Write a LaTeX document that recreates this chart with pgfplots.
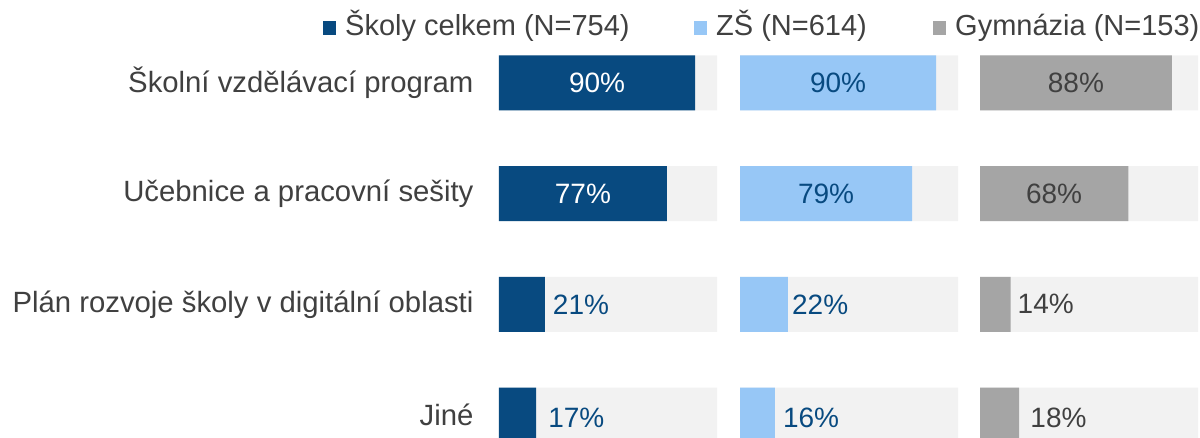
\documentclass[border=0pt]{standalone}
\usepackage{pgfplots}
\pgfplotsset{compat=1.18}
\usepackage{fontspec}
\setmainfont{Liberation Sans}
\definecolor{cone}{HTML}{084A80}
\definecolor{ctwo}{HTML}{97C7F6}
\definecolor{cthree}{HTML}{A5A5A5}
\definecolor{cbg}{HTML}{F2F2F2}
\definecolor{txt}{HTML}{404040}
\newcommand\catfont{\fontsize{29.3}{34}\selectfont}
\newcommand\legfont{\fontsize{29}{34}\selectfont}
\newcommand\valfont{\fontsize{28}{33}\selectfont}
\pgfplotsset{
  panel/.style={
    scale only axis, width=218pt, height=442.7pt,
    anchor=center,
    xmin=0, xmax=100, ymin=-0.5, ymax=3.5, y dir=reverse,
    axis line style={draw=none}, major tick style={draw=none},
    xtick=\empty, ytick={0,1,2,3}, yticklabels={},
    clip=false,
    /pgf/number format/assume math mode=true,
  },
  bgbar/.style={xbar, bar shift=0pt, bar width=55pt, fill=cbg, draw=none},
  valbar/.style={xbar, bar shift=0pt, bar width=55pt, fill=#1, draw=none, point meta=x},
  inlab/.style={visualization depends on=x\as\rawx,
    nodes near coords={\pgfmathprintnumber{\pgfplotspointmeta}\%},
    nodes near coords style={anchor=center, xshift=-\rawx*1.09pt, text=#1, font=\valfont, inner sep=0pt}},
  outlab/.style 2 args={visualization depends on=y\as\rawy,
    nodes near coords={\pgfmathprintnumber{\pgfplotspointmeta}\%},
    nodes near coords style={anchor=west, xshift={#2+(\rawy-2)*4pt}, yshift={-(\rawy-2)*3pt}, text=#1, font=\valfont, inner sep=0pt}},
}
\begin{document}
\begin{tikzpicture}
\useasboundingbox (0,0) rectangle (1200pt,437pt);
% legend
\fill[cone] (323pt,402pt) rectangle (336pt,416pt);
\node[anchor=base west, inner sep=0pt, text=txt, font=\legfont] at (345pt,401pt) {Školy celkem (N=754)};
\fill[ctwo] (694pt,402pt) rectangle (707pt,416pt);
\node[anchor=base west, inner sep=0pt, text=txt, font=\legfont] at (716pt,401pt) {ZŠ (N=614)};
\fill[cthree] (933pt,402pt) rectangle (946pt,416pt);
\node[anchor=base west, inner sep=0pt, text=txt, font=\legfont] at (955pt,401pt) {Gymnázia (N=153)};

% panel 1
\begin{axis}[panel, at={(608pt,188pt)},
  yticklabels={Školní vzdělávací program, Učebnice a pracovní sešity, Plán rozvoje školy v digitální oblasti, Jiné},
  yticklabel style={font=\catfont, text=txt, xshift=-22pt}]
\addplot[bgbar] coordinates {(100,0) (100,1) (100,2) (100,3)};
\addplot[valbar=cone, inlab=white] coordinates {(90,0) (77,1)};
\addplot[valbar=cone, outlab={cone}{8pt}] coordinates {(21,2) (17,3)};
\end{axis}
% panel 2
\begin{axis}[panel, at={(849pt,188pt)}]
\addplot[bgbar] coordinates {(100,0) (100,1) (100,2) (100,3)};
\addplot[valbar=ctwo, inlab=cone] coordinates {(90,0) (79,1)};
\addplot[valbar=ctwo, outlab={cone}{4pt}] coordinates {(22,2) (16,3)};
\end{axis}
% panel 3
\begin{axis}[panel, at={(1089pt,188pt)}]
\addplot[bgbar] coordinates {(100,0) (100,1) (100,2) (100,3)};
\addplot[valbar=cthree, inlab=txt] coordinates {(88,0) (68,1)};
\addplot[valbar=cthree, outlab={txt}{7pt}] coordinates {(14,2) (18,3)};
\end{axis}
\end{tikzpicture}
\end{document}
